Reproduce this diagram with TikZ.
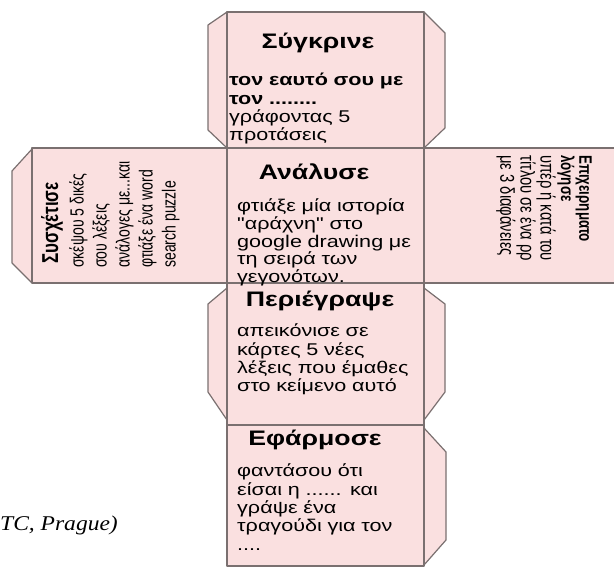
\documentclass[tikz,border=0pt]{standalone}
\usepackage{fontspec}
\setmainfont{Liberation Sans}
\newfontfamily\widefont[FakeStretch=1.27]{Liberation Sans}
\newfontfamily\narrowfont[FakeStretch=0.74]{Liberation Sans}
\newfontfamily\capfont[FakeStretch=1.12]{Liberation Serif}
\definecolor{facepink}{RGB}{250,224,224}
\definecolor{edgegrey}{RGB}{122,112,112}
\begin{document}
\begin{tikzpicture}[x=1pt,y=-1pt,
        face/.style={draw=edgegrey,fill=facepink,line width=1.2pt,
          line join=round},
        title/.style={font=\widefont\bfseries\fontsize{21}{22}\selectfont,
          inner sep=0pt},
        body/.style={font=\widefont\fontsize{17}{18.3}\selectfont,
          align=left,text width=195pt,inner sep=0pt,anchor=base west},
        sidetitle/.style={font=\narrowfont\bfseries\fontsize{23}{17}\selectfont,
          align=left,inner sep=0pt},
        sidebody/.style={font=\narrowfont\fontsize{19}{23}\selectfont,
          align=left,inner sep=0pt}]
      \useasboundingbox (0,0) rectangle (614,569);
      \clip (0,0) rectangle (614,569);
      % tabs
      \draw[face] (227,12) -- (208,25) -- (208,130) -- (227,148);
      \draw[face] (424,12) -- (445,33) -- (445,128) -- (424,148);
      \draw[face] (32,149) -- (12,171) -- (12,263) -- (32,283);
      \draw[face] (227,288) -- (208,304) -- (208,392) -- (227,420);
      \draw[face] (424,288) -- (445,304) -- (445,392) -- (424,420);
      \draw[face] (424,428) -- (446,452) -- (446,540) -- (424,565);
      % faces
      \draw[face] (227,12) rectangle (424,148);
      \draw[face] (32,148) rectangle (227,283);
      \draw[face] (227,148) rectangle (424,283);
      \draw[face] (424,148) rectangle (640,283);
      \draw[face] (227,283) rectangle (424,425);
      \draw[face] (227,425) rectangle (424,566);
      % top
      \node (t1) at (318,43) [title] {Σύγκρινε};
      \node (b1) at (229,86) [body] {{\bfseries τον εαυτό σου με}\\
        {\bfseries τον ........}\\γράφοντας 5\\προτάσεις};
      % centre
      \node (t2) at (314,172) [title] {Ανάλυσε};
      \node (b2) at (237,212) [body,font=\widefont\fontsize{17}{17.6}\selectfont]
        {φτιάξε μία ιστορία\\"αράχνη" στο\\
        google drawing με\\τη σειρά των\\γεγονότων.};
      % left
      \node (t3) at (52,223) [sidetitle,rotate=90] {Συσχέτισε};
      \node (b3) at (69,268) [sidebody,rotate=90,anchor=north west]
        {σκέψου 5 δικές\\σου λέξεις\\ανάλογες με...και\\φτιάξε ένα word\\search puzzle};
      % right
      \node (t4) at (592,155) [sidetitle,rotate=-90,anchor=north west,
        font=\narrowfont\bfseries\fontsize{18}{17}\selectfont] {Επιχειρηματο\\λόγησε};
      \node (b4) at (556,155) [sidebody,rotate=-90,anchor=north west,
        font=\narrowfont\fontsize{20}{18.5}\selectfont]
        {υπέρ ή κατά του\\τίτλου σε ένα ρρ\\με 3 διαφάνειες};
      % below
      \node (t5) at (320,301) [title] {Περιέγραψε};
      \node (b5) at (237,337) [body] {απεικόνισε σε\\κάρτες 5 νέες\\
        λέξεις που έμαθες\\στο κείμενο αυτό};
      \node (t6) at (315,440) [title] {Εφάρμοσε};
      \node (b6) at (237,477) [body] {φαντάσου ότι\\είσαι η ...... και\\
        γράψε ένα\\τραγούδι για τον\\....};
      % source
      \node (src) at (0,531) [anchor=base west,inner sep=0pt,
        font=\capfont\itshape\fontsize{21}{24}\selectfont] {TC, Prague)};
\end{tikzpicture}
\end{document}
